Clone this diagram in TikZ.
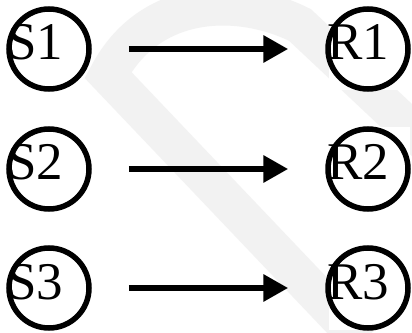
\documentclass[tikz,border=0pt]{standalone}
\usepackage{fontspec}
\setmainfont{Liberation Serif}
\usetikzlibrary{arrows.meta}
\begin{document}
\begin{tikzpicture}[x=1pt,y=1pt,
  ring/.style={circle,draw,line width=5.5pt,minimum size=80pt,inner sep=0pt},
  lbl/.style={anchor=base west,inner sep=0pt,outer sep=0pt,font=\fontsize{53}{53}\selectfont},
  conn/.style={line width=6.5pt,-{Triangle[length=25pt,width=26pt]},shorten <=37pt,shorten >=37pt},
  wm/.style={line width=38pt,color=black!5}]
\useasboundingbox (0,0) rectangle (412,332);
\fill[white] (0,0) rectangle (412,332);
% faint watermark
\draw[wm] (362,-10) -- (108,257) .. controls (150,337) and (240,337) .. (300,307) -- (430,185);
% white boxes behind right nodes
\fill[white] (329,242) rectangle (410,325);
\fill[white] (329,122) rectangle (410,205);
\fill[white] (329,2) rectangle (410,85);
\node[ring] (S1) at (49,283) {};
\node[ring] (S2) at (49,163) {};
\node[ring] (S3) at (49,44) {};
\node[ring] (R1) at (368,283) {};
\node[ring] (R2) at (368,163) {};
\node[ring] (R3) at (368,44) {};
\node[lbl,xshift=-41.5pt,yshift=-11pt] (tS1) at (S1.center) {S1};
\node[lbl,xshift=-41.5pt,yshift=-11pt] (tS2) at (S2.center) {S2};
\node[lbl,xshift=-41.5pt,yshift=-11pt] (tS3) at (S3.center) {S3};
\node[lbl,xshift=-41pt,yshift=-11pt] (tR1) at (R1.center) {R1};
\node[lbl,xshift=-41pt,yshift=-11pt] (tR2) at (R2.center) {R2};
\node[lbl,xshift=-41pt,yshift=-11pt] (tR3) at (R3.center) {R3};
\draw[conn] (S1) -- (R1);
\draw[conn] (S2) -- (R2);
\draw[conn] (S3) -- (R3);
\end{tikzpicture}
\end{document}
